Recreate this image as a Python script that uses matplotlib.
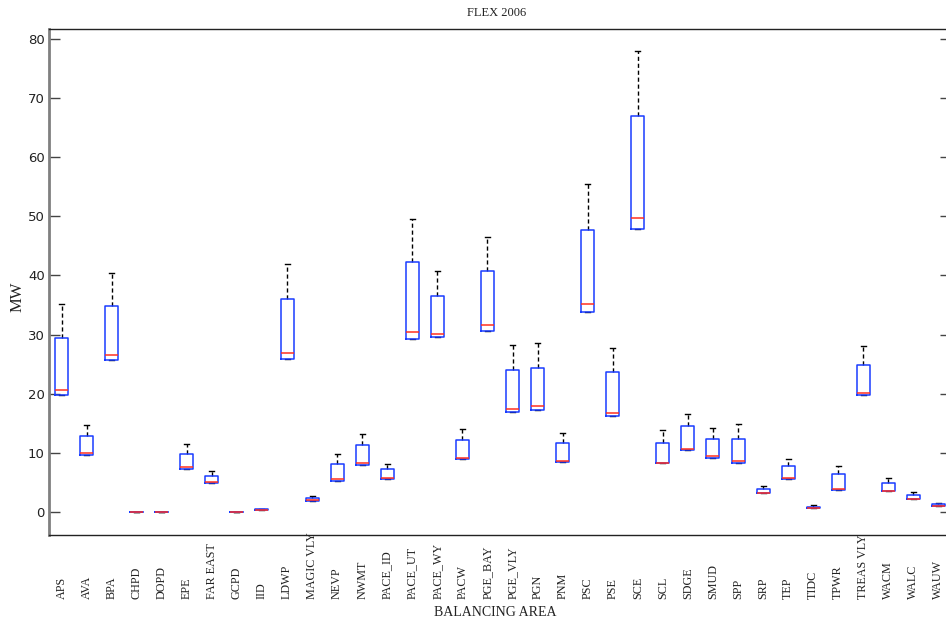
import matplotlib
matplotlib.use("Agg")
import matplotlib.pyplot as plt
from matplotlib.transforms import blended_transform_factory

# Balancing areas and their flexibility reserve statistics (MW)
areas = ["APS", "AVA", "BPA", "CHPD", "DOPD", "EPE", "FAR EAST", "GCPD", "IID",
         "LDWP", "MAGIC VLY", "NEVP", "NWMT", "PACE_ID", "PACE_UT", "PACE_WY",
         "PACW", "PGE_BAY", "PGE_VLY", "PGN", "PNM", "PSC", "PSE", "SCE", "SCL",
         "SDGE", "SMUD", "SPP", "SRP", "TEP", "TIDC", "TPWR", "TREAS VLY",
         "WACM", "WALC", "WAUW"]
whisker_hi = [35.1, 14.7, 40.4, 0.0, 0.0, 11.45, 6.9, 0.0, 0.5,
              41.9, 2.7, 9.8, 13.2, 8.1, 49.6, 40.8,
              14.0, 46.5, 28.3, 28.6, 13.3, 55.4, 27.8, 77.9, 13.9,
              16.6, 14.2, 14.8, 4.35, 9.0, 1.13, 7.8, 28.1,
              5.7, 3.4, 1.5]
q3 = [29.5, 12.9, 34.9, 0.0, 0.0, 9.87, 6.0, 0.0, 0.5,
      36.0, 2.4, 8.1, 11.3, 7.2, 42.2, 36.5,
      12.1, 40.8, 24.0, 24.4, 11.6, 47.7, 23.6, 66.95, 11.7,
      14.5, 12.35, 12.35, 3.8, 7.8, 0.9, 6.37, 24.9,
      4.96, 2.9, 1.3]
median = [20.6, 10.0, 26.6, 0.0, 0.0, 7.6, 5.1, 0.0, 0.34,
          26.85, 1.98, 5.5, 8.2, 5.7, 30.5, 30.1,
          9.1, 31.6, 17.5, 17.9, 8.7, 35.2, 16.8, 49.7, 8.35,
          10.7, 9.5, 8.7, 3.2, 5.8, 0.68, 3.95, 20.1,
          3.6, 2.25, 1.0]
q1 = [19.85, 9.7, 25.7, 0.0, 0.0, 7.3, 4.96, 0.0, 0.3,
      25.8, 1.86, 5.25, 7.9, 5.6, 29.2, 29.55,
      8.9, 30.6, 16.9, 17.3, 8.5, 33.8, 16.2, 47.9, 8.2,
      10.5, 9.2, 8.3, 3.2, 5.5, 0.62, 3.66, 19.7,
      3.5, 2.2, 0.96]
whisker_lo = list(q1)

stats = []
for name, lo, a, m, b, hi in zip(areas, whisker_lo, q1, median, q3, whisker_hi):
    stats.append(dict(label=name, whislo=lo, q1=a, med=m, q3=b, whishi=hi, fliers=[]))

fig = plt.figure(figsize=(9.46, 6.26), dpi=100)
ax = fig.add_axes([49 / 946, 91 / 626, 902 / 946, 506 / 626])

positions = list(range(1, len(areas) + 1))
parts = ax.bxp(stats, positions=positions, widths=0.52, showfliers=False,
               boxprops=dict(color="#1a3cff", linewidth=1.1),
               medianprops=dict(color="#ff3020", linewidth=1.1),
               whiskerprops=dict(color="black", linewidth=1.0, linestyle=(0, (3, 2))),
               capprops=dict(color="black", linewidth=1.0),
               capwidths=0.2, manage_ticks=False)

# Whiskers and caps sit beneath the boxes; medians on top
for art in parts["whiskers"] + parts["caps"]:
    art.set_zorder(2)
for art in parts["boxes"]:
    art.set_zorder(3)
for art in parts["medians"]:
    art.set_zorder(4)

ax.set_xlim(0.5, len(areas) + 0.5)
ax.set_ylim(-3.9, 81.7)
ax.set_yticks(range(0, 81, 10))
ax.tick_params(axis="y", direction="in", length=8, width=1.0, color="#444444",
               left=True, right=True, labelsize=9.5, pad=3)
ax.tick_params(axis="x", bottom=False, top=False, labelbottom=False)
for lbl in ax.get_yticklabels():
    lbl.set_fontfamily("DejaVu Sans")
    lbl.set_color("#222222")

ax.spines["left"].set_color("#808080")
ax.spines["left"].set_linewidth(2.0)
for s in ("top", "bottom", "right"):
    ax.spines[s].set_color("#222222")
    ax.spines[s].set_linewidth(1.0)

# Category names, rotated and anchored at a common baseline below the axes
trans = blended_transform_factory(ax.transData, fig.transFigure)
for x, name in zip(positions, areas):
    ax.text(x, (626 - 599) / 626, name, rotation=90, ha="center", va="bottom",
            transform=trans, fontsize=8.7, family="Liberation Serif",
            color="#222222", clip_on=False)

fig.text(495 / 946, 1 - 612 / 626, "BALANCING AREA", ha="center", va="center",
         fontsize=10, family="Liberation Serif", color="#222222")
fig.text(18 / 946, 1 - 297 / 626, "MW", ha="center", va="center", rotation=90,
         fontsize=12, family="Liberation Serif", color="#222222")
fig.text(497 / 946, 1 - 13 / 626, "FLEX 2006", ha="center", va="center",
         fontsize=9, family="Liberation Serif", color="#222222")

fig.savefig("out.png", dpi=100)
